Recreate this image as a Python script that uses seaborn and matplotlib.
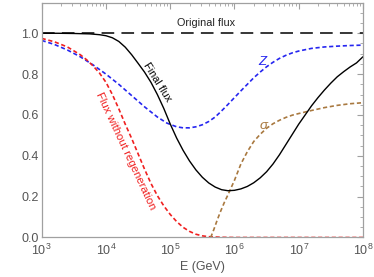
import numpy as np
import pandas as pd
import matplotlib
matplotlib.use("Agg")
import matplotlib.pyplot as plt
import matplotlib.ticker as mticker
import seaborn as sns

# ---- data (log10 of E in GeV, value) ----
final_logE = [3.0, 3.25, 3.5, 3.75, 3.9, 4.0, 4.1, 4.2, 4.3, 4.4, 4.5, 4.6, 4.7, 4.8,
              4.9, 5.0, 5.1, 5.2, 5.3, 5.4, 5.5, 5.6, 5.7, 5.8, 5.9, 6.0, 6.1, 6.2,
              6.3, 6.4, 6.5, 6.6, 6.7, 6.8, 6.9, 7.0, 7.1, 7.2, 7.3, 7.4, 7.5, 7.6,
              7.7, 7.8, 7.9, 8.0]
final_flux = [1.0, 1.0, 0.999, 0.997, 0.993, 0.988, 0.978, 0.960, 0.932, 0.895, 0.853,
              0.810, 0.760, 0.700, 0.632, 0.556, 0.487, 0.427, 0.375, 0.331, 0.295,
              0.267, 0.247, 0.234, 0.229, 0.231, 0.238, 0.250, 0.268, 0.292, 0.322,
              0.360, 0.405, 0.455, 0.505, 0.555, 0.600, 0.645, 0.685, 0.722, 0.756,
              0.787, 0.812, 0.835, 0.855, 0.885]

z_logE = [3.0, 3.2, 3.4, 3.6, 3.8, 4.0, 4.2, 4.4, 4.6, 4.8, 4.95, 5.1, 5.2, 5.3, 5.4,
          5.5, 5.6, 5.7, 5.8, 5.9, 6.0, 6.1, 6.2, 6.3, 6.4, 6.5, 6.6, 6.7, 6.8, 6.9,
          7.0, 7.2, 7.4, 7.6, 7.8, 8.0]
z_vals = [0.965, 0.945, 0.918, 0.885, 0.845, 0.800, 0.750, 0.695, 0.640, 0.590, 0.560,
          0.542, 0.537, 0.537, 0.542, 0.552, 0.568, 0.590, 0.620, 0.652, 0.685, 0.718,
          0.750, 0.782, 0.810, 0.836, 0.858, 0.877, 0.892, 0.904, 0.913, 0.926, 0.933,
          0.937, 0.940, 0.942]

noreg_logE = [3.0, 3.2, 3.4, 3.6, 3.7, 3.8, 3.9, 4.0, 4.1, 4.2, 4.3, 4.4, 4.5, 4.6, 4.7,
              4.8, 4.9, 5.0, 5.1, 5.2, 5.3, 5.4, 5.5, 5.6, 5.8, 6.0, 8.0]
noreg_vals = [0.975, 0.958, 0.933, 0.895, 0.870, 0.840, 0.805, 0.760, 0.700, 0.630,
              0.555, 0.485, 0.410, 0.335, 0.265, 0.205, 0.155, 0.113, 0.078, 0.050,
              0.030, 0.016, 0.008, 0.004, 0.001, 0.0, 0.0]

sigma_logE = [5.63, 5.68, 5.73, 5.78, 5.84, 5.9, 5.95, 6.0, 6.1, 6.2, 6.3, 6.4, 6.5,
              6.6, 6.7, 6.8, 6.9, 7.0, 7.2, 7.4, 7.6, 7.8, 8.0]
sigma_vals = [0.0, 0.04, 0.084, 0.125, 0.17, 0.21, 0.245, 0.28, 0.36, 0.42, 0.47,
              0.505, 0.535, 0.557, 0.574, 0.588, 0.599, 0.607, 0.622, 0.636, 0.647,
              0.655, 0.66]

orig_logE = [3.0, 8.0]
orig_vals = [1.0, 1.0]

x_ticks = [1e3, 1e4, 1e5, 1e6, 1e7, 1e8]
y_ticks = [0.0, 0.2, 0.4, 0.6, 0.8, 1.0]

# ---- style ----
sns.set_style("white")
plt.rcParams['font.family'] = ['Liberation Sans', 'DejaVu Sans']
plt.rcParams['mathtext.fontset'] = 'custom'
plt.rcParams['mathtext.rm'] = 'Liberation Sans'
plt.rcParams['mathtext.it'] = 'Liberation Sans:italic'

fig = plt.figure(figsize=(3.74, 2.77), dpi=100)
ax = fig.add_axes([0.1115, 0.1426, 0.859, 0.8464])

def E(lst):
    return [10.0 ** v for v in lst]

blue = "#2626f0"
red = "#f02020"
brown = "#a97940"

sns.lineplot(x=E(orig_logE), y=orig_vals, ax=ax, color="#262626", lw=1.3,
             linestyle=(0, (7, 4)))
sns.lineplot(x=E(z_logE), y=z_vals, ax=ax, color=blue, lw=1.2,
             linestyle=(0, (2.5, 1.6)))
sns.lineplot(x=E(noreg_logE), y=noreg_vals, ax=ax, color=red, lw=1.2,
             linestyle=(0, (2.5, 1.6)))
sns.lineplot(x=E(sigma_logE), y=sigma_vals, ax=ax, color=brown, lw=1.2,
             linestyle=(0, (2.5, 1.6)))
sns.lineplot(x=E(final_logE), y=final_flux, ax=ax, color="black", lw=1.0)

ax.set_xscale("log")
ax.set_xlim(1e3, 1e8)
ax.set_ylim(0, 1.148)
ax.set_xticks(x_ticks)
ax.xaxis.set_major_formatter(mticker.LogFormatterSciNotation())
ax.xaxis.set_minor_locator(mticker.LogLocator(base=10, subs=np.arange(2, 10)))
ax.set_yticks(y_ticks)
ax.yaxis.set_major_formatter(mticker.FormatStrFormatter("%.1f"))
ax.yaxis.set_minor_locator(mticker.MultipleLocator(0.05))

frame = "#a0a0a0"
for s in ax.spines.values():
    s.set_color(frame)
    s.set_linewidth(0.9)
ax.tick_params(which="both", direction="in", top=True, right=True, color=frame,
               labelcolor="#555555", labelsize=9, pad=2)
ax.tick_params(which="major", length=4, width=0.8)
ax.tick_params(which="minor", length=2, width=0.6)
ax.tick_params(axis="x", which="both", labeltop=False, pad=4)
ax.tick_params(axis="y", which="both", labelright=False)

ax.set_xlabel("E (GeV)", fontsize=9, color="#555555", labelpad=2)
ax.set_ylabel("")

ax.text(10 ** 5.56, 1.05, "Original flux", fontsize=7.8, color="#222222",
        ha="center", va="center")
ax.text(10 ** 4.80, 0.76, "Final flux", fontsize=7.8, color="black", rotation=-58,
        ha="center", va="center", rotation_mode="anchor")
ax.text(10 ** 4.30, 0.423, "Flux without regeneration", fontsize=8.2, color=red,
        rotation=-65, ha="center", va="center", rotation_mode="anchor")
ax.text(10 ** 6.43, 0.858, "Z", fontsize=9.5, color=blue, style="italic",
        ha="center", va="center")
ax.text(10 ** 6.45, 0.545, "σ", fontsize=9.5, color=brown, style="italic",
        ha="center", va="center")

fig.savefig("out.png", dpi=100)
